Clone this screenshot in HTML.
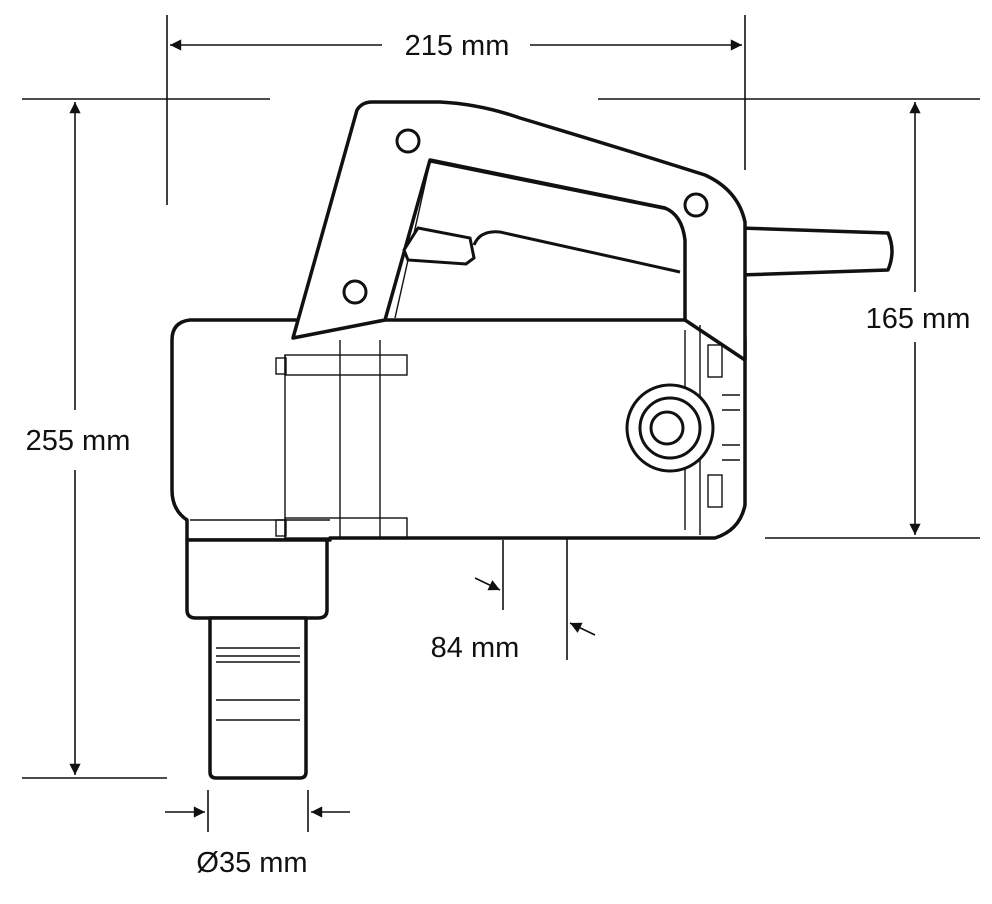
<!DOCTYPE html>
<html><head><style>html,body{margin:0;padding:0;background:#fff}svg{display:block}text{font-family:"Liberation Sans",sans-serif;font-size:29px;fill:#111}</style></head>
<body>
<svg width="992" height="904" viewBox="0 0 992 904" xmlns="http://www.w3.org/2000/svg">
<defs><marker id="a" viewBox="0 0 10 10" refX="10" refY="5" markerWidth="9" markerHeight="7" orient="auto-start-reverse"><path d="M0,0L10,5L0,10z" fill="#111"/></marker></defs>
<g stroke="#111" fill="none" stroke-width="1.6">
<line x1="167" y1="15" x2="167" y2="205"/>
<line x1="745" y1="15" x2="745" y2="170"/>
<line x1="170" y1="45" x2="382" y2="45" marker-start="url(#a)"/>
<line x1="530" y1="45" x2="742" y2="45" marker-end="url(#a)"/>
<line x1="22" y1="99" x2="270" y2="99"/>
<line x1="598" y1="99" x2="980" y2="99"/>
<line x1="75" y1="102" x2="75" y2="410" marker-start="url(#a)"/>
<line x1="75" y1="470" x2="75" y2="775" marker-end="url(#a)"/>
<line x1="22" y1="778" x2="167" y2="778"/>
<line x1="915" y1="102" x2="915" y2="292" marker-start="url(#a)"/>
<line x1="915" y1="342" x2="915" y2="535" marker-end="url(#a)"/>
<line x1="765" y1="538" x2="980" y2="538"/>
<line x1="503" y1="540" x2="503" y2="610"/>
<line x1="567" y1="440" x2="567" y2="660"/>
<line x1="475" y1="578" x2="500" y2="590" marker-end="url(#a)"/>
<line x1="595" y1="635" x2="570" y2="623" marker-end="url(#a)"/>
<line x1="208" y1="790" x2="208" y2="832"/>
<line x1="308" y1="790" x2="308" y2="832"/>
<line x1="165" y1="812" x2="205" y2="812" marker-end="url(#a)"/>
<line x1="350" y1="812" x2="311" y2="812" marker-end="url(#a)"/>
</g>
<g stroke="#111" fill="#fff" stroke-width="3.5" stroke-linejoin="round">
<path d="M740,228 L888,233 Q896,251 888,270 L740,275 Z"/>
<path d="M190,320 L730,320 Q745,322 745,340 L745,505 Q740,530 715,538 L330,538 L330,540 L187,540 L187,520 Q172,510 172,490 L172,340 Q172,322 190,320 Z"/>
<path d="M187,540 L327,540 L327,610 Q327,618 318,618 L196,618 Q187,618 187,610 Z"/>
<path d="M210,618 L306,618 L306,772 Q306,778 300,778 L216,778 Q210,778 210,772 Z"/>
<path d="M293,338 L357,110 Q362,102 372,102 L440,102 Q480,104 520,118 Q620,148 705,175 Q738,190 745,222 L745,360 L685,320 L685,240 Q682,215 665,208 L430,160 L385,320 Z"/>
</g>
<g stroke="#111" fill="none" stroke-width="1.4">
<path d="M395,318 L430,162 L668,210 Q684,218 685,240"/>
<line x1="216" y1="648" x2="300" y2="648"/><line x1="216" y1="656" x2="300" y2="656"/>
<line x1="216" y1="662" x2="300" y2="662"/><line x1="216" y1="700" x2="300" y2="700"/><line x1="216" y1="720" x2="300" y2="720"/>
<line x1="190" y1="520" x2="330" y2="520"/>
<rect x="285" y="355" width="122" height="20"/><rect x="285" y="518" width="122" height="20"/>
<line x1="285" y1="355" x2="285" y2="538"/><line x1="340" y1="340" x2="340" y2="538"/><line x1="380" y1="340" x2="380" y2="538"/>
<rect x="276" y="358" width="10" height="16"/><rect x="276" y="520" width="10" height="16"/>
<line x1="685" y1="330" x2="685" y2="530"/>
<line x1="700" y1="325" x2="700" y2="535"/>
<rect x="708" y="345" width="14" height="32"/><rect x="708" y="475" width="14" height="32"/>
<line x1="722" y1="395" x2="740" y2="395"/><line x1="722" y1="410" x2="740" y2="410"/><line x1="722" y1="445" x2="740" y2="445"/><line x1="722" y1="460" x2="740" y2="460"/>
</g>
<g stroke="#111" fill="#fff" stroke-width="3">
<circle cx="408" cy="141" r="11"/><circle cx="696" cy="205" r="11"/><circle cx="355" cy="292" r="11"/>
<circle cx="670" cy="428" r="43"/><circle cx="670" cy="428" r="30"/><circle cx="667" cy="428" r="16"/>
<path d="M418,228 L470,238 L474,258 L466,264 L408,260 L404,250 Z"/>
<path d="M474,245 Q480,230 500,232 L680,272" fill="none"/>
</g>
<text x="457" y="55" text-anchor="middle">215 mm</text>
<text x="78" y="450" text-anchor="middle">255 mm</text>
<text x="918" y="328" text-anchor="middle">165 mm</text>
<text x="475" y="657" text-anchor="middle">84 mm</text>
<text x="252" y="872" text-anchor="middle">Ø35 mm</text>
</svg>
</body></html>
